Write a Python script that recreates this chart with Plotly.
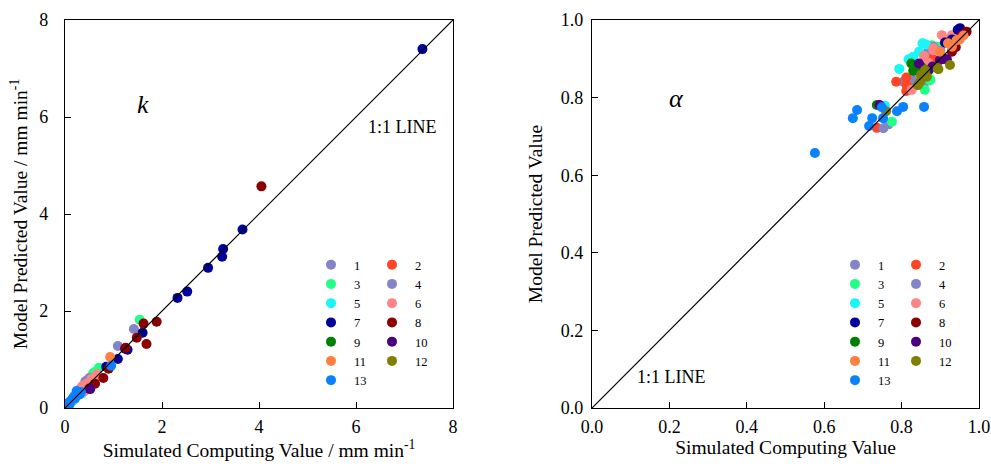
import plotly.graph_objects as go

FONT = "Times New Roman, Liberation Serif, serif"

series_names = ["1", "2", "3", "4", "5", "6", "7", "8", "9", "10", "11", "12", "13"]
series_colors = ["#8484C8", "#FF4524", "#22FF88", "#8484C8", "#1AF5F5", "#FF8585",
                 "#00009A", "#8B0000", "#008000", "#4B0082", "#FF8040", "#808000", "#0A82FF"]

# ---- k panel (simulated, predicted) ----
k_sim = {
    "1": [1.09, 0.46, 0.35, 0.20, 0.42],
    "2": [0.40, 0.25, 0.15],
    "3": [1.54, 0.70, 0.64, 0.58, 0.30],
    "4": [1.42, 0.50, 0.30],
    "5": [0.20, 0.10, 0.35],
    "6": [0.35, 0.45, 0.55, 0.25, 0.40, 0.60, 0.50, 0.37, 0.66, 0.30],
    "7": [7.37, 3.66, 3.26, 3.24, 2.95, 2.52, 2.32, 1.60, 1.29, 1.24, 1.09, 0.85],
    "8": [4.05, 1.89, 1.62, 1.48, 1.68, 1.25, 0.90, 0.79, 0.62, 0.50],
    "9": [0.05],
    "10": [0.52, 0.20],
    "11": [0.93, 0.30],
    "12": [0.02, 0.04],
    "13": [0.95, 0.06, 0.10, 0.16, 0.20, 0.24, 0.30, 0.12, 0.08, 0.33, 0.27, 0.18],
}
k_pred = {
    "1": [1.28, 0.56, 0.42, 0.25, 0.55],
    "2": [0.45, 0.30, 0.15],
    "3": [1.82, 0.83, 0.76, 0.72, 0.35],
    "4": [1.63, 0.62, 0.38],
    "5": [0.18, 0.08, 0.30],
    "6": [0.45, 0.50, 0.60, 0.30, 0.35, 0.55, 0.45, 0.45, 0.70, 0.36],
    "7": [7.40, 3.68, 3.28, 3.12, 2.89, 2.40, 2.27, 1.55, 1.20, 1.22, 1.01, 0.85],
    "8": [4.57, 1.78, 1.74, 1.45, 1.32, 1.24, 0.81, 0.62, 0.50, 0.40],
    "9": [0.05],
    "10": [0.39, 0.20],
    "11": [1.05, 0.28],
    "12": [0.02, 0.03],
    "13": [0.87, 0.10, 0.10, 0.20, 0.20, 0.35, 0.28, 0.15, 0.05, 0.33, 0.30, 0.22],
}

# ---- alpha panel (simulated, predicted) ----
a_sim = {
    "1": [0.805, 0.826, 0.874, 0.766, 0.826, 0.861, 0.865, 0.900],
    "2": [0.786, 0.812, 0.812, 0.813, 0.736, 0.850, 0.880],
    "3": [0.874, 0.878, 0.775, 0.891, 0.874, 0.860],
    "4": [0.753, 0.882, 0.840, 0.870, 0.900],
    "5": [0.794, 0.818, 0.845, 0.854, 0.863, 0.757, 0.830],
    "6": [0.826, 0.858, 0.882, 0.904, 0.930, 0.882, 0.920, 0.870],
    "7": [0.951, 0.912, 0.945, 0.960, 0.930],
    "8": [0.968, 0.930, 0.955, 0.940, 0.910],
    "9": [0.825, 0.830, 0.736, 0.850, 0.870],
    "10": [0.845, 0.869, 0.899, 0.917, 0.743, 0.904, 0.880],
    "11": [0.899, 0.942, 0.930, 0.920, 0.950, 0.960],
    "12": [0.861, 0.842, 0.865, 0.893, 0.925, 0.760, 0.850, 0.848, 0.895],
    "13": [0.685, 0.674, 0.724, 0.752, 0.716, 0.788, 0.804, 0.858, 0.749, 0.576],
}
a_pred = {
    "1": [0.841, 0.837, 0.901, 0.731, 0.850, 0.841, 0.914, 0.930],
    "2": [0.841, 0.817, 0.852, 0.832, 0.722, 0.860, 0.900],
    "3": [0.845, 0.935, 0.738, 0.931, 0.847, 0.820],
    "4": [0.721, 0.931, 0.870, 0.880, 0.920],
    "5": [0.874, 0.899, 0.918, 0.940, 0.937, 0.779, 0.905],
    "6": [0.820, 0.907, 0.922, 0.961, 0.961, 0.927, 0.950, 0.890],
    "7": [0.979, 0.942, 0.975, 0.970, 0.950],
    "8": [0.970, 0.918, 0.960, 0.930, 0.900],
    "9": [0.888, 0.869, 0.781, 0.880, 0.870],
    "10": [0.888, 0.871, 0.897, 0.899, 0.781, 0.899, 0.880],
    "11": [0.918, 0.948, 0.931, 0.940, 0.950, 0.960],
    "12": [0.871, 0.832, 0.854, 0.876, 0.884, 0.765, 0.858, 0.841, 0.873],
    "13": [0.768, 0.747, 0.747, 0.747, 0.727, 0.765, 0.776, 0.776, 0.775, 0.657],
}

k_ticks = [0, 2, 4, 6, 8]
a_ticks = [0.0, 0.2, 0.4, 0.6, 0.8, 1.0]

fig = go.Figure()

for i, (name, color) in enumerate(zip(series_names, series_colors)):
    odd = (i % 2 == 0)
    fig.add_trace(go.Scatter(
        x=k_sim[name], y=k_pred[name], mode="markers", name=name,
        marker=dict(color=color, size=10, line=dict(width=0)),
        xaxis="x", yaxis="y", legend="legend" if odd else "legend2"))
for i, (name, color) in enumerate(zip(series_names, series_colors)):
    odd = (i % 2 == 0)
    fig.add_trace(go.Scatter(
        x=a_sim[name], y=a_pred[name], mode="markers", name=name,
        marker=dict(color=color, size=10, line=dict(width=0)),
        xaxis="x2", yaxis="y2", legend="legend3" if odd else "legend4"))

# 1:1 lines
fig.add_shape(type="line", xref="x", yref="y", x0=k_ticks[0], y0=k_ticks[0],
              x1=k_ticks[-1], y1=k_ticks[-1], line=dict(color="black", width=1.2), layer="above")
fig.add_shape(type="line", xref="x2", yref="y2", x0=a_ticks[0], y0=a_ticks[0],
              x1=a_ticks[-1], y1=a_ticks[-1], line=dict(color="black", width=1.2), layer="above")

axis_common = dict(showgrid=False, zeroline=False, showline=True, linecolor="black",
                   linewidth=1.2, mirror=True, ticks="inside", ticklen=6, tickcolor="black",
                   tickfont=dict(family=FONT, size=18, color="black"), automargin=False)

H = 466.0
W = 991.0
ydom = [(H - 408) / H, (H - 20) / H]
TITLE_FONT = dict(family=FONT, size=19.5, color="black")

fig.update_layout(
    width=991, height=466,
    margin=dict(l=0, r=0, t=0, b=0),
    paper_bgcolor="white", plot_bgcolor="white",
    font=dict(family=FONT, color="black"),
    xaxis=dict(domain=[65 / W, 453 / W], range=[0, 8], tickvals=k_ticks,
               title=dict(text="Simulated Computing Value / mm min<sup>-1</sup>",
                          font=TITLE_FONT, standoff=4),
               ticklabelstandoff=2, anchor="y", **axis_common),
    yaxis=dict(domain=ydom, range=[0, 8], tickvals=k_ticks,
               title=dict(text="Model Predicted Value / mm min<sup>-1</sup>",
                          font=TITLE_FONT, standoff=6),
               ticklabelstandoff=12, anchor="x", **axis_common),
    xaxis2=dict(domain=[592 / W, 979 / W], range=[0, 1], tickvals=a_ticks, tickformat=".1f",
                title=dict(text="Simulated Computing Value",
                           font=TITLE_FONT, standoff=4),
                ticklabelstandoff=2, anchor="y2", **axis_common),
    yaxis2=dict(domain=ydom, range=[0, 1], tickvals=a_ticks, tickformat=".1f",
                title=dict(text="Model Predicted Value",
                           font=TITLE_FONT, standoff=12),
                ticklabelstandoff=4, anchor="x2", **axis_common),
    showlegend=True,
)

leg_common = dict(bgcolor="rgba(0,0,0,0)", borderwidth=0, orientation="v",
                  font=dict(family=FONT, size=12.5, color="black"),
                  xanchor="left", yanchor="top", itemwidth=36)
legend_y = 1 - 250 / H
fig.update_layout(
    legend=dict(x=308 / W, y=legend_y, **leg_common),
    legend2=dict(x=369 / W, y=legend_y, **leg_common),
    legend3=dict(x=832 / W, y=legend_y, **leg_common),
    legend4=dict(x=893 / W, y=legend_y, **leg_common),
)

# panel labels (explicit anchors so paper positions are text centres)
ann_common = dict(xref="paper", yref="paper", showarrow=False,
                  xanchor="center", yanchor="middle")
fig.add_annotation(x=143 / W, y=1 - 104 / H, text="<i>k</i>",
                   font=dict(family=FONT, size=26, color="black"), **ann_common)
fig.add_annotation(x=676 / W, y=1 - 98 / H, text="<i>α</i>",
                   font=dict(family=FONT, size=26, color="black"), **ann_common)
fig.add_annotation(x=402 / W, y=1 - 127 / H, text="1:1 LINE",
                   font=dict(family=FONT, size=18, color="black"), **ann_common)
fig.add_annotation(x=671 / W, y=1 - 377 / H, text="1:1 LINE",
                   font=dict(family=FONT, size=18, color="black"), **ann_common)

fig.write_html("out.html")
